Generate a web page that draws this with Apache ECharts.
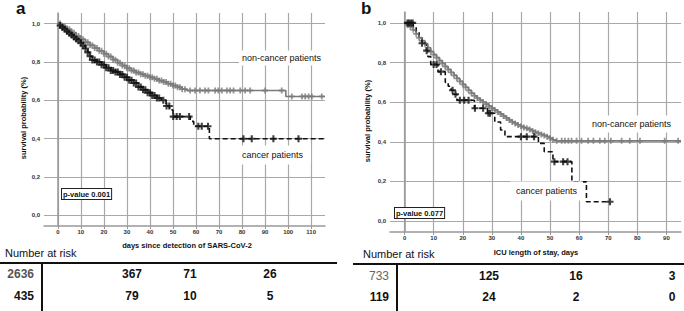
<!DOCTYPE html>
<html><head><meta charset="utf-8">
<script src="https://cdn.jsdelivr.net/npm/echarts@6/dist/echarts.min.js"></script>
<style>html,body{margin:0;padding:0;background:#fff}#c{width:684px;height:311px}</style>
</head><body><div id="c"></div>
<script>
// ---- Data ----
// Panel a: days since detection of SARS-CoV-2
const nonCancerA = [[0,1],[2,0.985],[4,0.97],[6,0.952],[8,0.935],[10,0.918],[12,0.902],[14,0.887],[16,0.872],[18,0.858],[20,0.843],[22,0.828],[24,0.812],[26,0.796],[28,0.781],[30,0.767],[32,0.755],[34,0.745],[36,0.736],[38,0.728],[40,0.72],[42,0.712],[44,0.703],[46,0.695],[48,0.686],[50,0.677],[52,0.668],[54,0.658],[56,0.651],[99,0.62],[116,0.62]];
const cancerA = [[0,1],[1,0.99],[2,0.98],[3,0.97],[4,0.96],[5,0.95],[6,0.94],[7,0.93],[8,0.92],[9,0.91],[10,0.9],[11,0.885],[12,0.87],[13,0.85],[14,0.83],[15,0.81],[17,0.8],[19,0.785],[21,0.77],[23,0.755],[25,0.748],[27,0.735],[29,0.72],[31,0.705],[33,0.69],[35,0.67],[37,0.655],[39,0.64],[41,0.625],[43,0.612],[45,0.6],[47,0.57],[48.5,0.55],[50,0.515],[57.5,0.49],[59,0.465],[65.8,0.4],[116,0.4]];
const nonCancerACensor = [1,2,3,4,5,6,7,8,9,10,11,12,13,14,15,16,17,18,19,20,21,22,23,24,25,26,27,28,29,30,31,32,33,34,35,36,37,38,39,40,41,42,43,44,45,46,47,48,49,50,51,52,53,54,55.2,57.4,59.6,61.7,63.9,65.4,68.3,69.7,71.2,73.4,74.8,76.3,79.2,81.3,83.5,90,97.2,101.6,106,107.4,108.9,110.3,114.6];
const cancerACensor = [1,2,3,4,5,6,7,8,9,10,11,12,13,14,15,16,17,18,19,20,21,22,23,24,25,26,27,28,29,30,31,32,33,34,35,36,37,38,39,40,41,42,43,44,45.8,47.2,48.4,50.1,51.6,53,57,61,62.5,65.2,80.6,84.2,93.6,104.5];
// Panel b: ICU length of stay, days
const nonCancerB = [[0,1],[1,0.99],[2,0.98],[3,0.965],[4,0.945],[5,0.925],[6,0.91],[7,0.895],[8,0.875],[9,0.855],[10,0.84],[11,0.825],[12,0.81],[13,0.795],[14,0.78],[15,0.765],[16,0.75],[17,0.735],[18,0.72],[19,0.705],[20,0.69],[21,0.675],[22,0.66],[23,0.645],[24,0.632],[25,0.62],[26,0.61],[27,0.6],[28,0.59],[29,0.58],[30,0.57],[31,0.56],[32,0.55],[33,0.54],[34,0.53],[35,0.52],[36,0.51],[37,0.5],[38,0.493],[39,0.485],[40,0.478],[41,0.472],[42,0.468],[43,0.462],[44,0.455],[45,0.448],[46,0.443],[47,0.437],[48,0.432],[49,0.426],[50,0.418],[51,0.41],[52,0.405],[95,0.405]];
const cancerB = [[0,1],[3,0.98],[4,0.955],[5,0.93],[6,0.897],[7.5,0.86],[8,0.83],[9,0.79],[11.5,0.754],[14,0.7],[15,0.68],[16,0.66],[17,0.64],[18,0.61],[24,0.569],[28.5,0.544],[31,0.5],[33,0.46],[34.5,0.426],[46,0.392],[48,0.35],[51,0.3],[57.5,0.198],[62.5,0.0975],[70.6,0.0975]];
const nonCancerBCensor = [1,2,3,4,5,6,7,8,9,10,11,12,13,14,15,16,17,18,19,20,21,22,23,24,25,26,27,28,29,30,31,32,33,34,35,36,37,38,39,40,41,42,43,44,45,46,47,48,49,50,51,52.3,54,55.1,56.3,57.4,59.1,60.8,63.1,64.9,67.1,68.8,70.9,74.6,77.4,80.9,89.4,94];
const cancerBCensor = [1,1.5,2.2,2.8,6,7.6,10,11,12.5,16.5,17.5,19,20.5,22,24.2,27,28.8,29.4,40,42,44.5,51.5,54.5,56,70.6];
// Number at risk
const riskA_nonCancer = [2636, 367, 71, 26];
const riskA_cancer = [435, 79, 10, 5];
const riskB_nonCancer = [733, 125, 16, 3];
const riskB_cancer = [119, 24, 2, 0];
const yTicks = [0, 0.2, 0.4, 0.6, 0.8, 1.0];
const xTicksA = [0,10,20,30,40,50,60,70,80,90,100,110];
const xTicksB = [0,10,20,30,40,50,60,70,80,90];
const pA = 'p-value 0.001', pB = 'p-value 0.077';

// ---- helpers ----
function survAt(steps, t){ let s = steps[0][1]; for (const p of steps){ if (p[0] <= t) s = p[1]; else break; } return s; }
const PLUS = 'path://M3.5,0H6.5V3.5H10V6.5H6.5V10H3.5V6.5H0V3.5H3.5Z';
const FONT = 'Liberation Sans';
const GRID_C = '#a8a8a8', GRAY = '#7a7a7a', BLACK = '#111';

function xAxisCfg(idx, min, max, ticks){
  return {type:'value', gridIndex:idx, min:min, max:max,
    axisLine:{show:true, onZero:false, lineStyle:{color:'#999', width:1.5}},
    axisTick:{show:true, length:3, customValues:ticks, lineStyle:{color:'#999'}},
    axisLabel:{customValues:ticks, fontSize:6, fontWeight:'bold', color:'#333', margin:3, fontFamily:FONT},
    splitLine:{show:true, lineStyle:{color:GRID_C, width:1.2}}};
}
function yAxisCfg(idx){
  return {type:'value', gridIndex:idx, min:-0.055, max:1.055,
    axisLine:{show:true, lineStyle:{color:'#999', width:1.5}},
    axisTick:{show:false, customValues:yTicks},
    axisLabel:{customValues:yTicks, fontSize:6, fontWeight:'bold', color:'#333', margin:4, fontFamily:FONT,
      formatter:v=>v.toFixed(1).replace('.',',')},
    splitLine:{show:true, lineStyle:{color:GRID_C, width:1.2}}};
}
function curve(idx, data, color, dashed){
  return {type:'line', xAxisIndex:idx, yAxisIndex:idx, data:data, step:'end', showSymbol:false, symbol:'none',
    lineStyle:{color:color, width:1.6, type: dashed ? [5,3] : 'solid'}, z:3, silent:true, animation:false};
}
function censor(idx, times, steps, color, size){
  return {type:'scatter', xAxisIndex:idx, yAxisIndex:idx, data:times.map(t=>[t, survAt(steps,t)]),
    symbol:PLUS, symbolSize:size, itemStyle:{color:color}, z:4, silent:true, animation:false};
}
function txt(x, y, text, o){
  o = o || {};
  return {type:'text', x:x, y:y, z:20, style:{text:text, fill:o.fill||'#111', font:(o.weight||'normal')+' '+(o.size||12)+'px "'+FONT+'"',
    textAlign:o.align||'left', textVerticalAlign:'middle', backgroundColor:o.bg, padding:o.pad, borderColor:o.border, borderWidth:o.border?1:0}, rotation:o.rot||0};
}
function ln(x1,y1,x2,y2,w){ return {type:'line', z:20, shape:{x1,y1,x2,y2}, style:{stroke:'#111', lineWidth:w||2}}; }

const chart = echarts.init(document.getElementById('c'), null, {renderer:'svg'});
const graphics = [
  txt(16, 8, 'a', {size:17, weight:'bold'}),
  txt(361, 8, 'b', {size:17, weight:'bold'}),
  txt(23, 118, 'survival probability (%)', {size:7.5, weight:'bold', align:'center', rot:Math.PI/2}),
  txt(367, 121, 'survival probability (%)', {size:7.5, weight:'bold', align:'center', rot:Math.PI/2}),
  txt(187, 245, 'days since detection of SARS-CoV-2', {size:7.5, weight:'bold', align:'center'}),
  txt(536, 252, 'ICU length of stay, days', {size:7.5, weight:'bold', align:'center'}),
  txt(239, 58, 'non-cancer patients', {size:9, bg:'#fff', pad:[3,8,3,3]}),
  txt(239, 155, 'cancer patients', {size:9, bg:'#fff', pad:[5,8,5,3]}),
  txt(589, 124, 'non-cancer patients', {size:9, bg:'#fff', pad:[4,3,4,3]}),
  txt(510, 191, 'cancer patients', {size:9, bg:'#fff', pad:[5,6,5,6]}),
  txt(62, 194, pA, {size:7.5, weight:'bold', bg:'#fff', pad:[1,1,1,1], border:'#222'}),
  txt(395, 213, pB, {size:7.5, weight:'bold', bg:'#fff', pad:[1,1,1,1], border:'#222'}),
  // Number at risk tables
  txt(5, 253, 'Number at risk', {size:11}),
  txt(363, 254, 'Number at risk', {size:11}),
  ln(0, 263, 337, 263, 2), ln(42, 263, 42, 311, 2),
  ln(353, 264, 684, 264, 2), ln(397, 264, 397, 311, 2),
  txt(34, 274, String(riskA_nonCancer[0]), {size:12, weight:'bold', align:'right', fill:'#555'}),
  txt(34, 296, String(riskA_cancer[0]), {size:12, weight:'bold', align:'right'}),
  txt(132, 274, String(riskA_nonCancer[1]), {size:12, weight:'bold', align:'center'}),
  txt(190, 274, String(riskA_nonCancer[2]), {size:12, weight:'bold', align:'center'}),
  txt(270, 274, String(riskA_nonCancer[3]), {size:12, weight:'bold', align:'center'}),
  txt(132, 296, String(riskA_cancer[1]), {size:12, weight:'bold', align:'center'}),
  txt(190, 296, String(riskA_cancer[2]), {size:12, weight:'bold', align:'center'}),
  txt(270, 296, String(riskA_cancer[3]), {size:12, weight:'bold', align:'center'}),
  txt(389, 276, String(riskB_nonCancer[0]), {size:12, align:'right', fill:'#666'}),
  txt(389, 297, String(riskB_cancer[0]), {size:12, weight:'bold', align:'right'}),
  txt(489, 276, String(riskB_nonCancer[1]), {size:12, weight:'bold', align:'center'}),
  txt(576, 276, String(riskB_nonCancer[2]), {size:12, weight:'bold', align:'center'}),
  txt(672, 276, String(riskB_nonCancer[3]), {size:12, weight:'bold', align:'center'}),
  txt(489, 297, String(riskB_cancer[1]), {size:12, weight:'bold', align:'center'}),
  txt(576, 297, String(riskB_cancer[2]), {size:12, weight:'bold', align:'center'}),
  txt(672, 297, String(riskB_cancer[3]), {size:12, weight:'bold', align:'center'})
];

chart.setOption({
  animation:false,
  backgroundColor:'#fff',
  grid:[{left:44, right:359, top:13, bottom:85}, {left:390, right:3, top:12, bottom:79}],
  xAxis:[xAxisCfg(0, -6, 116, xTicksA), xAxisCfg(1, -5, 95, xTicksB)],
  yAxis:[yAxisCfg(0), yAxisCfg(1)],
  series:[
    curve(0, nonCancerA, GRAY, false),
    curve(0, cancerA, BLACK, true),
    censor(0, nonCancerACensor, nonCancerA, GRAY, 6),
    censor(0, cancerACensor, cancerA, BLACK, 7),
    curve(1, nonCancerB, GRAY, false),
    curve(1, cancerB, BLACK, true),
    censor(1, nonCancerBCensor, nonCancerB, GRAY, 6),
    censor(1, cancerBCensor, cancerB, BLACK, 7)
  ],
  graphic:graphics
});
</script></body></html>
